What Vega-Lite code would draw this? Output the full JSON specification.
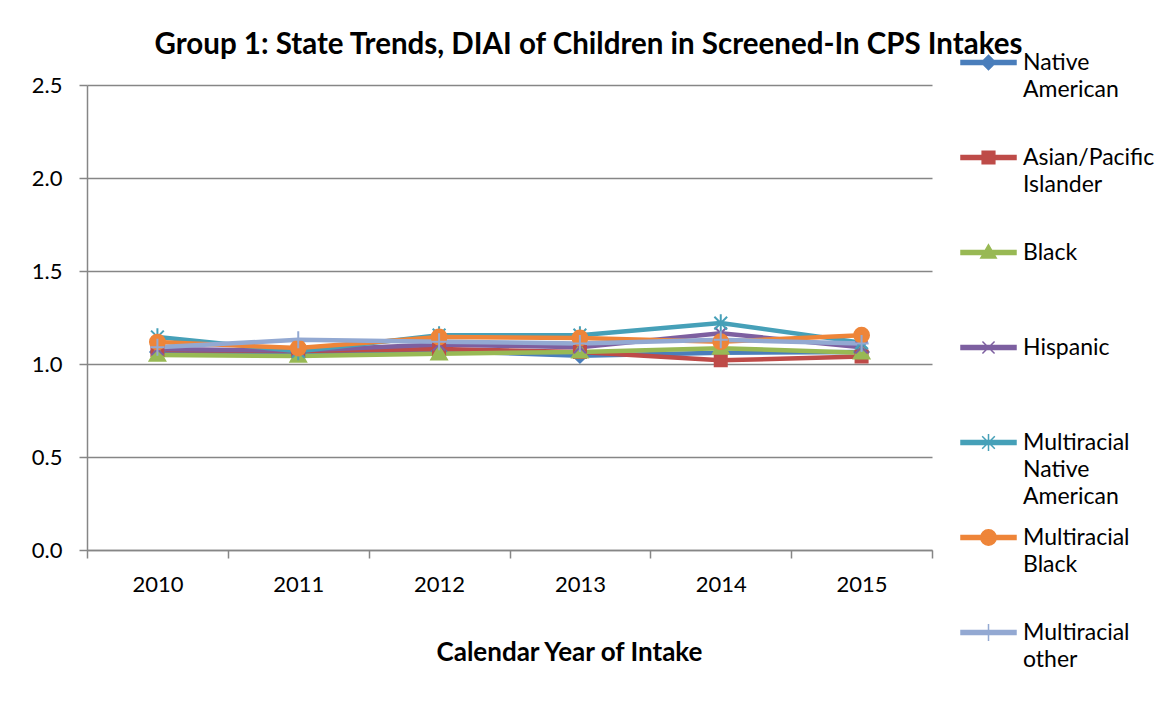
{
  "$schema": "https://vega.github.io/schema/vega-lite/v6.json",
  "width": 845,
  "height": 465,
  "autosize": {"type": "none"},
  "padding": {"left": 87, "top": 85, "right": 239, "bottom": 173},
  "background": "white",
  "config": {
    "font": "Lato",
    "view": {"stroke": null},
    "axis": {"labelFont": "Lato", "labelFontSize": 22, "labelColor": "#000000", "titleFont": "Lato", "titleColor": "#000000"}
  },
  "title": {
    "text": "Group 1: State Trends, DIAI of Children in Screened-In CPS Intakes",
    "font": "Lato",
    "fontSize": 29.5,
    "fontWeight": "bold",
    "color": "#000000",
    "anchor": "middle",
    "frame": "group",
    "dx": 79,
    "offset": -26
  },
  "data": {
    "values": [
      {"year": "2010", "series": "Native American", "diai": 1.065},
      {"year": "2011", "series": "Native American", "diai": 1.06},
      {"year": "2012", "series": "Native American", "diai": 1.07},
      {"year": "2013", "series": "Native American", "diai": 1.045},
      {"year": "2014", "series": "Native American", "diai": 1.06},
      {"year": "2015", "series": "Native American", "diai": 1.065},
      {"year": "2010", "series": "Asian/Pacific Islander", "diai": 1.075},
      {"year": "2011", "series": "Asian/Pacific Islander", "diai": 1.07},
      {"year": "2012", "series": "Asian/Pacific Islander", "diai": 1.08},
      {"year": "2013", "series": "Asian/Pacific Islander", "diai": 1.065},
      {"year": "2014", "series": "Asian/Pacific Islander", "diai": 1.02},
      {"year": "2015", "series": "Asian/Pacific Islander", "diai": 1.04},
      {"year": "2010", "series": "Black", "diai": 1.048},
      {"year": "2011", "series": "Black", "diai": 1.043},
      {"year": "2012", "series": "Black", "diai": 1.055},
      {"year": "2013", "series": "Black", "diai": 1.065},
      {"year": "2014", "series": "Black", "diai": 1.085},
      {"year": "2015", "series": "Black", "diai": 1.06},
      {"year": "2010", "series": "Hispanic", "diai": 1.08},
      {"year": "2011", "series": "Hispanic", "diai": 1.072},
      {"year": "2012", "series": "Hispanic", "diai": 1.105},
      {"year": "2013", "series": "Hispanic", "diai": 1.09},
      {"year": "2014", "series": "Hispanic", "diai": 1.165},
      {"year": "2015", "series": "Hispanic", "diai": 1.09},
      {"year": "2010", "series": "Multiracial Native American", "diai": 1.145},
      {"year": "2011", "series": "Multiracial Native American", "diai": 1.068},
      {"year": "2012", "series": "Multiracial Native American", "diai": 1.155},
      {"year": "2013", "series": "Multiracial Native American", "diai": 1.155},
      {"year": "2014", "series": "Multiracial Native American", "diai": 1.22},
      {"year": "2015", "series": "Multiracial Native American", "diai": 1.115},
      {"year": "2010", "series": "Multiracial Black", "diai": 1.118},
      {"year": "2011", "series": "Multiracial Black", "diai": 1.086},
      {"year": "2012", "series": "Multiracial Black", "diai": 1.145},
      {"year": "2013", "series": "Multiracial Black", "diai": 1.14},
      {"year": "2014", "series": "Multiracial Black", "diai": 1.12},
      {"year": "2015", "series": "Multiracial Black", "diai": 1.155},
      {"year": "2010", "series": "Multiracial other", "diai": 1.09},
      {"year": "2011", "series": "Multiracial other", "diai": 1.13},
      {"year": "2012", "series": "Multiracial other", "diai": 1.12},
      {"year": "2013", "series": "Multiracial other", "diai": 1.11},
      {"year": "2014", "series": "Multiracial other", "diai": 1.13},
      {"year": "2015", "series": "Multiracial other", "diai": 1.11}
    ]
  },
  "encoding": {
    "x": {
      "field": "year",
      "type": "ordinal",
      "bandPosition": 0.5,
      "scale": {"type": "band", "paddingInner": 0, "paddingOuter": 0},
      "axis": {
        "title": "Calendar Year of Intake",
        "titleFontSize": 26,
        "titleFontWeight": "bold",
        "titleX": 482,
        "titleY": 102,
        "titleBaseline": "middle",
        "labelAngle": 0,
        "labelPadding": 16,
        "tickBand": "extent",
        "tickSize": 8,
        "tickColor": "#868686",
        "tickWidth": 1.5,
        "domainColor": "#868686",
        "domainWidth": 1.5,
        "grid": false
      }
    },
    "y": {
      "field": "diai",
      "type": "quantitative",
      "scale": {"domain": [0, 2.5], "nice": false, "zero": true},
      "axis": {
        "title": null,
        "values": [0, 0.5, 1, 1.5, 2, 2.5],
        "format": ".1f",
        "labelPadding": 17,
        "tickSize": 8,
        "tickColor": "#868686",
        "tickWidth": 1.5,
        "domainColor": "#868686",
        "domainWidth": 1.5,
        "grid": true,
        "gridColor": "#868686",
        "gridWidth": 1.5
      }
    },
    "color": {
      "field": "series",
      "type": "nominal",
      "sort": null,
      "scale": {
        "domain": ["Native American", "Asian/Pacific Islander", "Black", "Hispanic", "Multiracial Native American", "Multiracial Black", "Multiracial other"],
        "range": ["#4A7EBB", "#BE4B48", "#98B954", "#7D5FA0", "#46A0B8", "#EE8539", "#93A9D2"]
      },
      "legend": {
        "title": null,
        "orient": "none",
        "legendX": 873,
        "legendY": -51,
        "padding": 0,
        "symbolSize": 3025,
        "symbolStrokeWidth": 1.5,
        "gridAlign": "all",
        "rowPadding": 0,
        "labelOffset": 6,
        "labelFont": "Lato",
        "labelFontSize": 23,
        "labelColor": "#000000",
        "labelBaseline": "top",
        "labelLimit": 300,
        "labelExpr": "split(datum.label, ' ')",
        "encode": {
          "labels": {"update": {"lineHeight": {"value": 27}, "dy": {"value": -11}}},
          "symbols": {
            "update": {
              "shape": {"signal": "{'Native American': 'M-1,-0.07H1V0.07H-1Z M0,-0.26L0.26,0L0,0.26L-0.26,0Z', 'Asian/Pacific Islander': 'M-1,-0.07H1V0.07H-1Z M-0.23,-0.23H0.23V0.23H-0.23Z', 'Black': 'M-1,-0.07H1V0.07H-1Z M0,-0.28L0.28,0.2L-0.28,0.2Z', 'Hispanic': 'M-1,-0.07H1V0.07H-1Z M-0.22,-0.22L0.22,0.22M-0.22,0.22L0.22,-0.22', 'Multiracial Native American': 'M-1,-0.07H1V0.07H-1Z M-0.23,-0.23L0.23,0.23M-0.23,0.23L0.23,-0.23M0,-0.31V0.31', 'Multiracial Black': 'M-1,-0.07H1V0.07H-1Z M0.28,0A0.28,0.28,0,1,1,-0.28,0A0.28,0.28,0,1,1,0.28,0Z', 'Multiracial other': 'M-1,-0.07H1V0.07H-1Z M0,-0.31V0.31'}[datum.value]"},
              "strokeWidth": {"value": 1.5},
              "opacity": {"value": 1}
            }
          }
        }
      }
    }
  },
  "layer": [
    {
      "mark": {"type": "line", "strokeWidth": 4.5, "strokeCap": "round", "strokeJoin": "round"},
      "encoding": {"detail": {"field": "series"}}
    },
    {
      "mark": {"type": "point", "filled": true, "opacity": 1, "size": 200, "strokeWidth": 2},
      "encoding": {
        "stroke": {
          "field": "series",
          "type": "nominal",
          "sort": null,
          "scale": {
            "domain": ["Native American", "Asian/Pacific Islander", "Black", "Hispanic", "Multiracial Native American", "Multiracial Black", "Multiracial other"],
            "range": ["#4A7EBB", "#BE4B48", "#98B954", "#7D5FA0", "#46A0B8", "#EE8539", "#93A9D2"]
          },
          "legend": null
        },
        "shape": {
          "field": "series",
          "type": "nominal",
          "sort": null,
          "scale": {
            "range": [
              "M0,-1L1,0L0,1L-1,0Z",
              "M-0.85,-0.85H0.85V0.85H-0.85Z",
              "M0,-1.1L1.1,0.8L-1.1,0.8Z",
              "M-0.85,-0.85L0.85,0.85M-0.85,0.85L0.85,-0.85",
              "M-0.9,-0.9L0.9,0.9M-0.9,0.9L0.9,-0.9M0,-1.25V1.25",
              "M1.05,0A1.05,1.05,0,1,1,-1.05,0A1.05,1.05,0,1,1,1.05,0Z",
              "M0,-1.2V1.2M-1,0H1"
            ]
          },
          "legend": null
        }
      }
    }
  ]
}
